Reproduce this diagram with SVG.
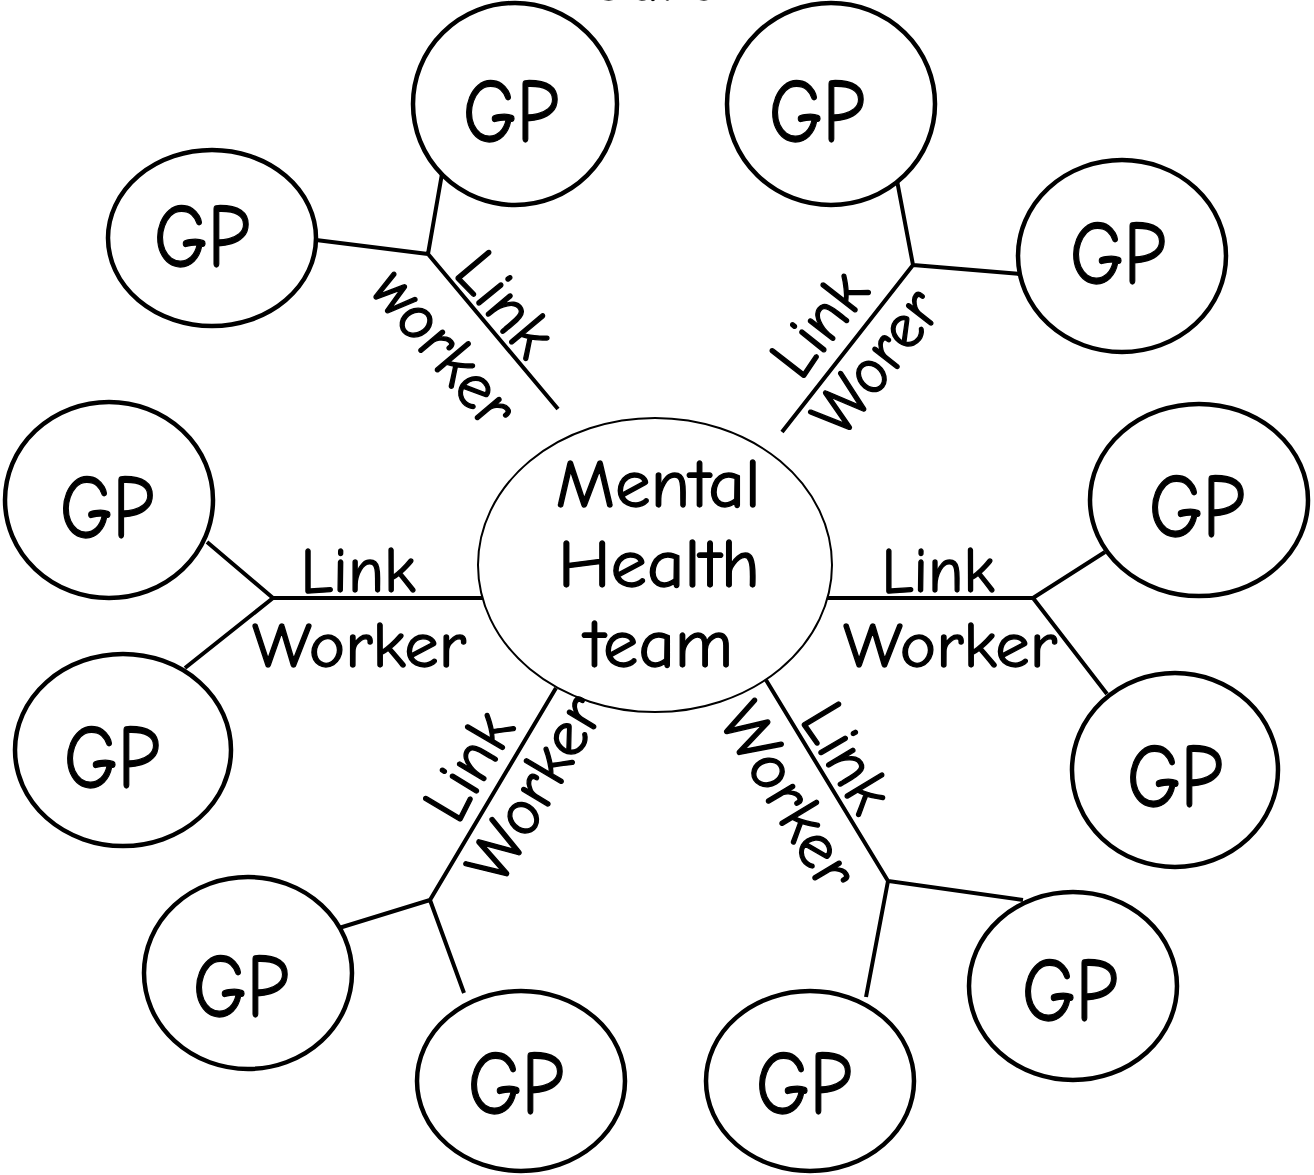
<svg xmlns="http://www.w3.org/2000/svg" width="1314" height="1175" viewBox="0 0 1314 1175">
<style>
.gp{fill:#fff;stroke:#000;stroke-width:4.5}
.hub{fill:#fff;stroke:#000;stroke-width:2}
.ln{stroke:#000;stroke-width:4;fill:none;stroke-linecap:butt}
text{font-family:"Comic Sans MS","Comic Neue","Liberation Sans",sans-serif;fill:#000;stroke:#000;stroke-width:1.3;text-anchor:middle}
.g{font-size:90px}
.l{font-size:65px}
.c{font-size:68px}
</style>
<rect width="1314" height="1175" fill="#fff"/>
<text class="l" x="652" y="0" font-size="80">Care</text>
<g id="connectors">
<path class="ln" d="M558,409 L428,254 L443,168 M428,254 L316,240"/>
<path class="ln" d="M782,432 L913,265 L895,170 M913,265 L1020,274"/>
<path class="ln" d="M483,598 L273,598 L207,542 M273,598 L185,668"/>
<path class="ln" d="M827,598 L1033,598 L1105,552 M1033,598 L1107,694"/>
<path class="ln" d="M556,688 L430,900 L339,928 M430,900 L464,993"/>
<path class="ln" d="M766,680 L888,881 L1023,900 M888,881 L866,997"/>
</g>
<g id="hub"><ellipse class="hub" cx="655" cy="565" rx="177" ry="147"/>
<text class="c" x="658" y="507" textLength="205" lengthAdjust="spacingAndGlyphs">Mental</text>
<text class="c" x="659" y="587" textLength="202" lengthAdjust="spacingAndGlyphs">Health</text>
<text class="c" x="659" y="667" textLength="148" lengthAdjust="spacingAndGlyphs">team</text></g>
<g id="gp1"><ellipse class="gp" cx="515" cy="104" rx="102" ry="101"/><text class="g" x="511" y="142" textLength="96" lengthAdjust="spacingAndGlyphs">GP</text></g>
<g id="gp2"><ellipse class="gp" cx="831" cy="104" rx="104" ry="101"/><text class="g" x="817" y="142" textLength="96" lengthAdjust="spacingAndGlyphs">GP</text></g>
<g id="gp3"><ellipse class="gp" cx="212" cy="238" rx="104" ry="88"/><text class="g" x="202" y="267" textLength="96" lengthAdjust="spacingAndGlyphs">GP</text></g>
<g id="gp4"><ellipse class="gp" cx="1122" cy="256" rx="104" ry="96"/><text class="g" x="1118" y="284" textLength="96" lengthAdjust="spacingAndGlyphs">GP</text></g>
<g id="gp5"><ellipse class="gp" cx="109" cy="500" rx="104" ry="98"/><text class="g" x="107" y="538" textLength="94" lengthAdjust="spacingAndGlyphs">GP</text></g>
<g id="gp6"><ellipse class="gp" cx="123" cy="750" rx="108" ry="96"/><text class="g" x="112" y="788" textLength="96" lengthAdjust="spacingAndGlyphs">GP</text></g>
<g id="gp7"><ellipse class="gp" cx="1199" cy="500" rx="109" ry="96"/><text class="g" x="1197" y="537" textLength="96" lengthAdjust="spacingAndGlyphs">GP</text></g>
<g id="gp8"><ellipse class="gp" cx="1175" cy="770" rx="103" ry="97"/><text class="g" x="1175" y="807" textLength="96" lengthAdjust="spacingAndGlyphs">GP</text></g>
<g id="gp9"><ellipse class="gp" cx="248" cy="973" rx="104" ry="96"/><text class="g" x="241" y="1017" textLength="96" lengthAdjust="spacingAndGlyphs">GP</text></g>
<g id="gp10"><ellipse class="gp" cx="521" cy="1081" rx="104" ry="90"/><text class="g" x="516" y="1114" textLength="96" lengthAdjust="spacingAndGlyphs">GP</text></g>
<g id="gp11"><ellipse class="gp" cx="810" cy="1081" rx="104" ry="90"/><text class="g" x="804" y="1114" textLength="96" lengthAdjust="spacingAndGlyphs">GP</text></g>
<g id="gp12"><ellipse class="gp" cx="1073" cy="986" rx="104" ry="94"/><text class="g" x="1070" y="1021" textLength="96" lengthAdjust="spacingAndGlyphs">GP</text></g>
<g id="labels">
<text class="l" transform="translate(489,317.5) rotate(50)" textLength="115" lengthAdjust="spacingAndGlyphs">Link</text>
<text class="l" transform="translate(428.5,362) rotate(50)" textLength="185" lengthAdjust="spacingAndGlyphs">worker</text>
<text class="l" transform="translate(836,337) rotate(-52)" textLength="115" lengthAdjust="spacingAndGlyphs">Link</text>
<text class="l" transform="translate(892.6,375) rotate(-52)" textLength="165" lengthAdjust="spacingAndGlyphs">Worer</text>
<text class="l" x="358" y="592" textLength="115" lengthAdjust="spacingAndGlyphs">Link</text>
<text class="l" x="359" y="667" textLength="214" lengthAdjust="spacingAndGlyphs">Worker</text>
<text class="l" x="938" y="592" textLength="113" lengthAdjust="spacingAndGlyphs">Link</text>
<text class="l" x="950" y="667" textLength="214" lengthAdjust="spacingAndGlyphs">Worker</text>
<text class="l" transform="translate(487,776.7) rotate(-59.3)" textLength="115" lengthAdjust="spacingAndGlyphs">Link</text>
<text class="l" transform="translate(552.5,799.5) rotate(-59.3)" textLength="205" lengthAdjust="spacingAndGlyphs">Worker</text>
<text class="l" transform="translate(828.6,768.5) rotate(58.9)" textLength="115" lengthAdjust="spacingAndGlyphs">Link</text>
<text class="l" transform="translate(770.2,807) rotate(58.9)" textLength="205" lengthAdjust="spacingAndGlyphs">Worker</text>
</g>
</svg>
